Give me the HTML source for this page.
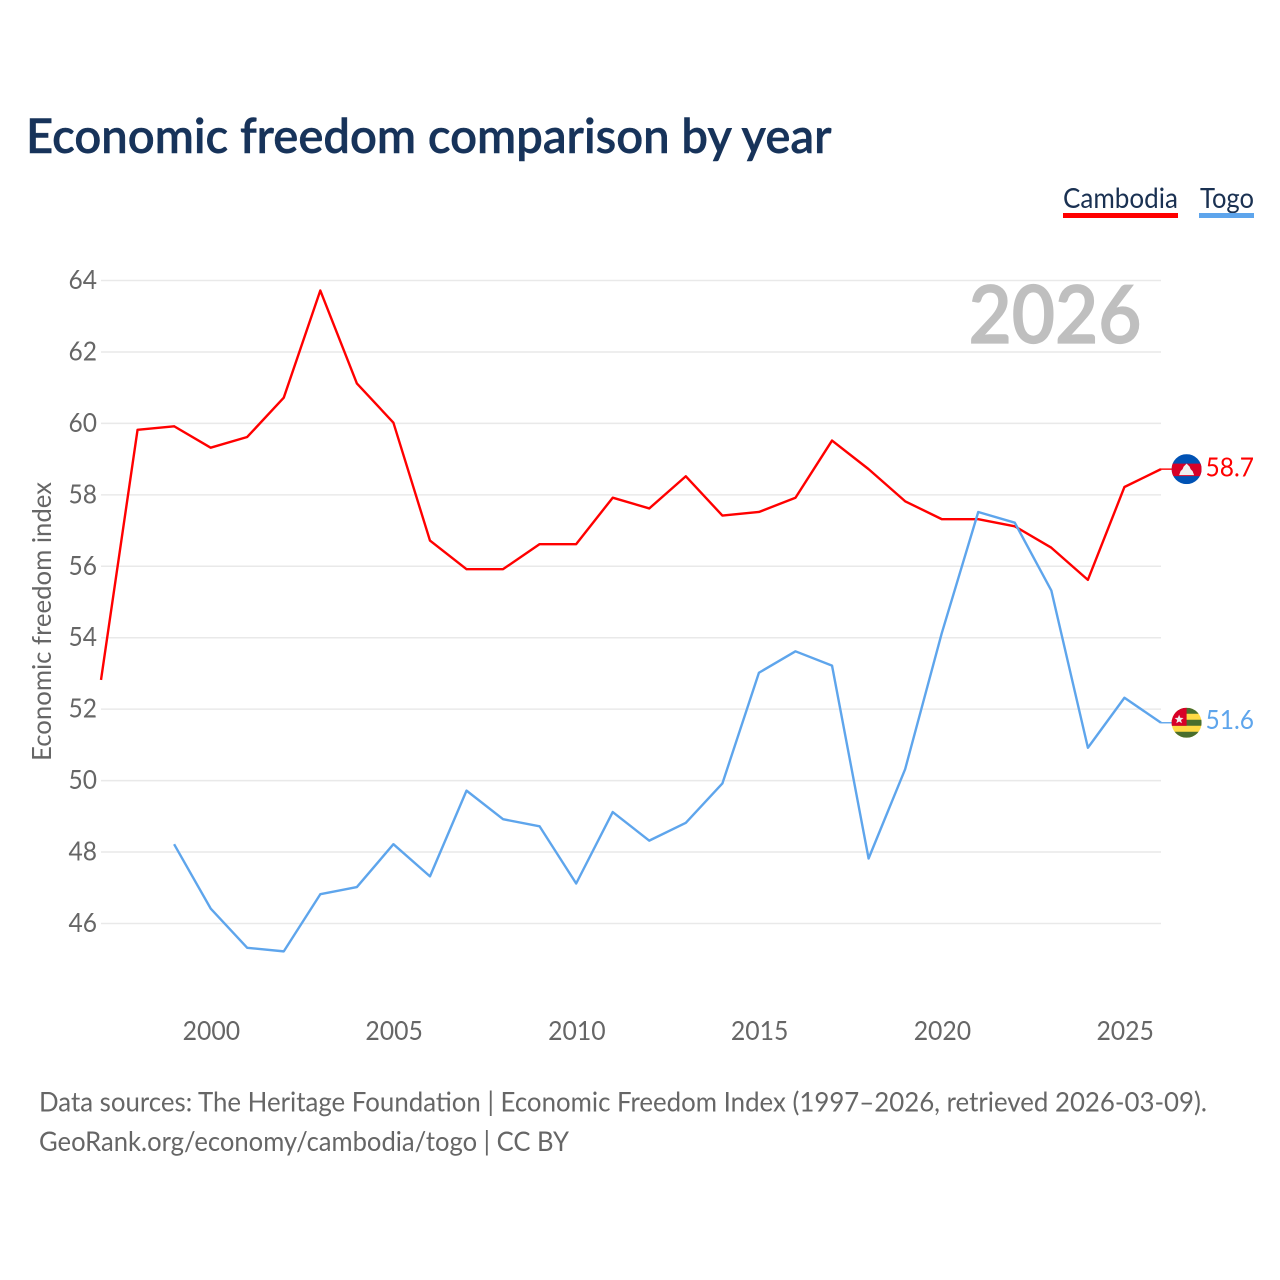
<!DOCTYPE html>
<html lang="en">
<head>
<meta charset="utf-8">
<title>Economic freedom comparison by year</title>
<style>
html,body{margin:0;padding:0;background:#fff;width:1280px;height:1280px;overflow:hidden}
svg{display:block}
text{font-family:Lato,"Liberation Sans",sans-serif}
</style>
</head>
<body>
<svg id="chart" xmlns="http://www.w3.org/2000/svg" width="1280" height="1280" viewBox="0 0 1280 1280">
  <rect width="1280" height="1280" fill="#fff"/>
  <text x="26" y="153" font-size="48" font-weight="600" fill="#17335a" stroke="#17335a" stroke-width="0.5" textLength="805.5" lengthAdjust="spacingAndGlyphs">Economic freedom comparison by year</text>
  <g>
    <g>
      <text x="1063" y="208" font-size="28" fill="#1a3152" textLength="115" lengthAdjust="spacingAndGlyphs">Cambodia</text>
      <rect x="1063" y="213" width="115" height="5" fill="#ff0000"/>
    </g>
    <g>
      <text x="1200" y="208" font-size="28" fill="#1a3152" textLength="54" lengthAdjust="spacingAndGlyphs">Togo</text>
      <rect x="1199" y="213" width="55" height="5" fill="#5ea5ec"/>
    </g>
  </g>
  <g id="grid"></g>
  <text x="968.5" y="343" font-size="80" font-weight="600" fill="#bfbfbf" stroke="#bfbfbf" stroke-width="1.2" textLength="173" lengthAdjust="spacingAndGlyphs">2026</text>
  <g id="yticks"></g>
  <g id="xticks"></g>
  <text transform="translate(51,761) rotate(-90)" font-size="26" fill="#666" textLength="279" lengthAdjust="spacingAndGlyphs">Economic freedom index</text>
  <g id="series" transform="translate(0,-0.7)"></g>
  <defs>
    <clipPath id="flag-clip-kh"><circle id="kh-clip" r="15"/></clipPath>
    <clipPath id="flag-clip-tg"><circle id="tg-clip" r="15"/></clipPath>
  </defs>
  <g id="flag-kh"></g>
  <g id="flag-tg"></g>
  <g id="endlabels"></g>
  <text x="39" y="1111.5" font-size="27" fill="#666" textLength="1168" lengthAdjust="spacingAndGlyphs">Data sources: The Heritage Foundation | Economic Freedom Index (1997–2026, retrieved 2026-03-09).</text>
  <text x="39" y="1151" font-size="27" fill="#666" textLength="530" lengthAdjust="spacingAndGlyphs">GeoRank.org/economy/cambodia/togo | CC BY</text>
</svg>
<script>
const years = [1997,1998,1999,2000,2001,2002,2003,2004,2005,2006,2007,2008,2009,2010,2011,2012,2013,2014,2015,2016,2017,2018,2019,2020,2021,2022,2023,2024,2025,2026];
const cambodia = [52.8,59.8,59.9,59.3,59.6,60.7,63.7,61.1,60.0,56.7,55.9,55.9,56.6,56.6,57.9,57.6,58.5,57.4,57.5,57.9,59.5,58.7,57.8,57.3,57.3,57.1,56.5,55.6,58.2,58.7];
const togo = [null,null,48.2,46.4,45.3,45.2,46.8,47.0,48.2,47.3,49.7,48.9,48.7,47.1,49.1,48.3,48.8,49.9,53.0,53.6,53.2,47.8,50.3,54.1,57.5,57.2,55.3,50.9,52.3,51.6];
const yTickValues = [46,48,50,52,54,56,58,60,62,64];
const xTickValues = [2000,2005,2010,2015,2020,2025];

const NS = 'http://www.w3.org/2000/svg';
const plotLeft = 101, plotRight = 1161;
const xScale = v => plotLeft + (v - 1997) * (plotRight - plotLeft) / (2026 - 1997);
const yScale = v => 280.5 + (64 - v) * (923.5 - 280.5) / (64 - 46);
function make(tag, attrs, parent, txt) {
  const el = document.createElementNS(NS, tag);
  for (const k in attrs) el.setAttribute(k, attrs[k]);
  if (txt !== undefined) el.textContent = txt;
  parent.appendChild(el);
  return el;
}
const grid = document.getElementById('grid');
const yticks = document.getElementById('yticks');
const xticks = document.getElementById('xticks');
const seriesG = document.getElementById('series');
const endG = document.getElementById('endlabels');

yTickValues.forEach(v => {
  const ln = make('line', {x1: plotLeft, x2: plotRight, y1: yScale(v), y2: yScale(v), stroke: '#e9e9e9', 'stroke-width': 1.5}, grid);
  
  
  const t = make('text', {x: 68.5, y: yScale(v) + 8.5, 'font-size': 26, fill: '#666', textLength: 28.5, lengthAdjust: 'spacingAndGlyphs'}, yticks, String(v));
  
  
});
xTickValues.forEach(v => {
  const t = make('text', {x: xScale(v) - 28, y: 1040, 'font-size': 26, fill: '#666', textLength: 57.5, lengthAdjust: 'spacingAndGlyphs'}, xticks, String(v));
  
  
});
function pathFor(vals) {
  let d = '', pen = false;
  vals.forEach((v, i) => {
    if (v === null) { pen = false; return; }
    d += (pen ? 'L' : 'M') + xScale(years[i]).toFixed(2) + ' ' + yScale(v).toFixed(2);
    pen = true;
  });
  return d;
}
const camLine = make('path', {d: pathFor(cambodia), fill: 'none', stroke: '#ff0000', 'stroke-width': 2.4, 'stroke-linejoin': 'round'}, seriesG);


const togoLine = make('path', {d: pathFor(togo), fill: 'none', stroke: '#5ea5ec', 'stroke-width': 2.4, 'stroke-linejoin': 'round'}, seriesG);



const camLast = cambodia[cambodia.length - 1];
const togoLast = togo[togo.length - 1];
const camY = yScale(camLast) - 0.7;
const togoY = yScale(togoLast) - 0.7;
const fx = 1186.6;

const camLeader = make('line', {x1: plotRight, x2: fx - 14, y1: yScale(camLast), y2: yScale(camLast), stroke: '#ff0000', 'stroke-width': 1.4}, seriesG);


const togoLeader = make('line', {x1: plotRight, x2: fx - 14, y1: yScale(togoLast), y2: yScale(togoLast), stroke: '#5ea5ec', 'stroke-width': 1.4}, seriesG);



const camLabel = make('text', {x: 1205.5, y: camY + 7.2, 'font-size': 26, fill: '#ff0000', textLength: 48.5, lengthAdjust: 'spacingAndGlyphs'}, endG, camLast.toFixed(1));


const togoLabel = make('text', {x: 1205.5, y: togoY + 6.2, 'font-size': 26, fill: '#5ea5ec', textLength: 48.5, lengthAdjust: 'spacingAndGlyphs'}, endG, togoLast.toFixed(1));



// Cambodia flag
document.getElementById('kh-clip').setAttribute('cx', fx);
document.getElementById('kh-clip').setAttribute('cy', camY);
const kh = document.getElementById('flag-kh');
kh.setAttribute('clip-path', 'url(#flag-clip-kh)');
make('rect', {x: fx - 15, y: camY - 15, width: 30, height: 30, fill: '#0052b4'}, kh);
make('rect', {x: fx - 15, y: camY - 5.5, width: 30, height: 12.5, fill: '#d80027'}, kh);
make('path', {d: `M${fx - 7.5} ${camY + 6}L${fx - 6} ${camY + 2}L${fx - 4} ${camY}L${fx - 3} ${camY - 2.5}L${fx} ${camY - 5.5}L${fx + 3} ${camY - 2.5}L${fx + 4} ${camY}L${fx + 6} ${camY + 2}L${fx + 7.5} ${camY + 6}Z`, fill: '#f0f0f0'}, kh);

// Togo flag
document.getElementById('tg-clip').setAttribute('cx', fx);
document.getElementById('tg-clip').setAttribute('cy', togoY);
const tg = document.getElementById('flag-tg');
tg.setAttribute('clip-path', 'url(#flag-clip-tg)');
make('rect', {x: fx - 15, y: togoY - 15, width: 30, height: 30, fill: '#ffda44'}, tg);
make('rect', {x: fx - 15, y: togoY - 15, width: 30, height: 6, fill: '#496e2d'}, tg);
make('rect', {x: fx - 15, y: togoY - 3, width: 30, height: 6, fill: '#496e2d'}, tg);
make('rect', {x: fx - 15, y: togoY + 9, width: 30, height: 6, fill: '#496e2d'}, tg);
make('rect', {x: fx - 15, y: togoY - 15, width: 15, height: 18, fill: '#d80027'}, tg);
make('path', {d: `M${fx - 7.5} ${togoY - 8}l1.2 3 3.3.2-2.6 2.1.9 3.2-2.8-1.8-2.8 1.8.9-3.2-2.6-2.1 3.3-.2z`, fill: '#f0f0f0'}, tg);
</script>
</body>
</html>
